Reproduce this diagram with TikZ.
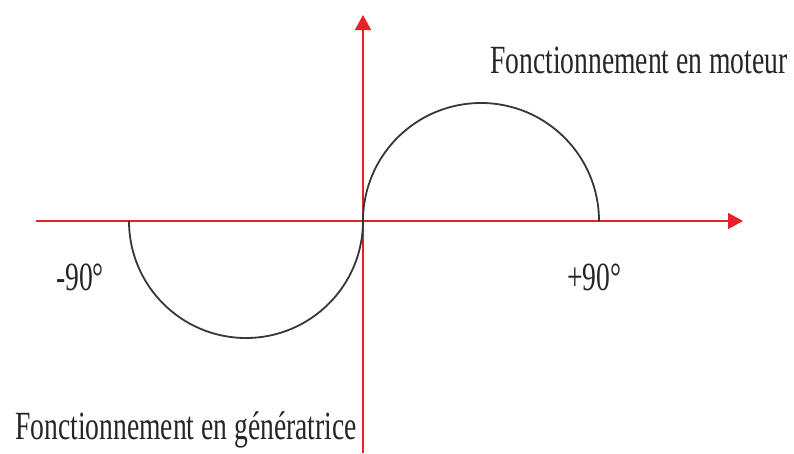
\documentclass[tikz,border=0pt]{standalone}
\usepackage{fontspec}
\newfontfamily\labelfont[FakeStretch=0.69]{Liberation Serif}
\definecolor{axisred}{RGB}{232,32,40}
\definecolor{curvegray}{RGB}{55,55,55}
\usetikzlibrary{arrows.meta,positioning}

\begin{document}
\begin{tikzpicture}[
  x=1pt, y=-1pt,
  axis/.style={-{Triangle[length=15pt,width=16pt]}, line width=1.6pt, draw=axisred},
  curve/.style={line width=1.8pt, draw=curvegray},
  caption/.style={inner sep=0pt, anchor=base west,
    font=\labelfont\fontsize{40}{48}\selectfont, text=black!85}
]
\useasboundingbox (0,0) rectangle (794,453);

% axes
\coordinate (xstart) at (36,221);
\coordinate (xend)   at (743,221);
\coordinate (ystart) at (363,453);
\coordinate (yend)   at (363,15);
\coordinate (origin) at (363,221);
\coordinate (left)   at (129,221);

\draw[axis] (xstart) -- (xend);
\draw[axis] (ystart) -- (yend);

% half circles
\draw[curve] (origin) arc[start angle=180, end angle=360, radius=118];
\draw[curve] (left) arc[start angle=180, end angle=0, radius=117];

% labels
\node[caption] (moteur) at (490,73)  {Fonctionnement en moteur};
\node[caption] (gene)   at (15,439)  {Fonctionnement en génératrice};
\node[caption] (minus)  at (56,290)  {-90°};
\node[caption] (plus)   at (567,290) {+90°};
\end{tikzpicture}
\end{document}
